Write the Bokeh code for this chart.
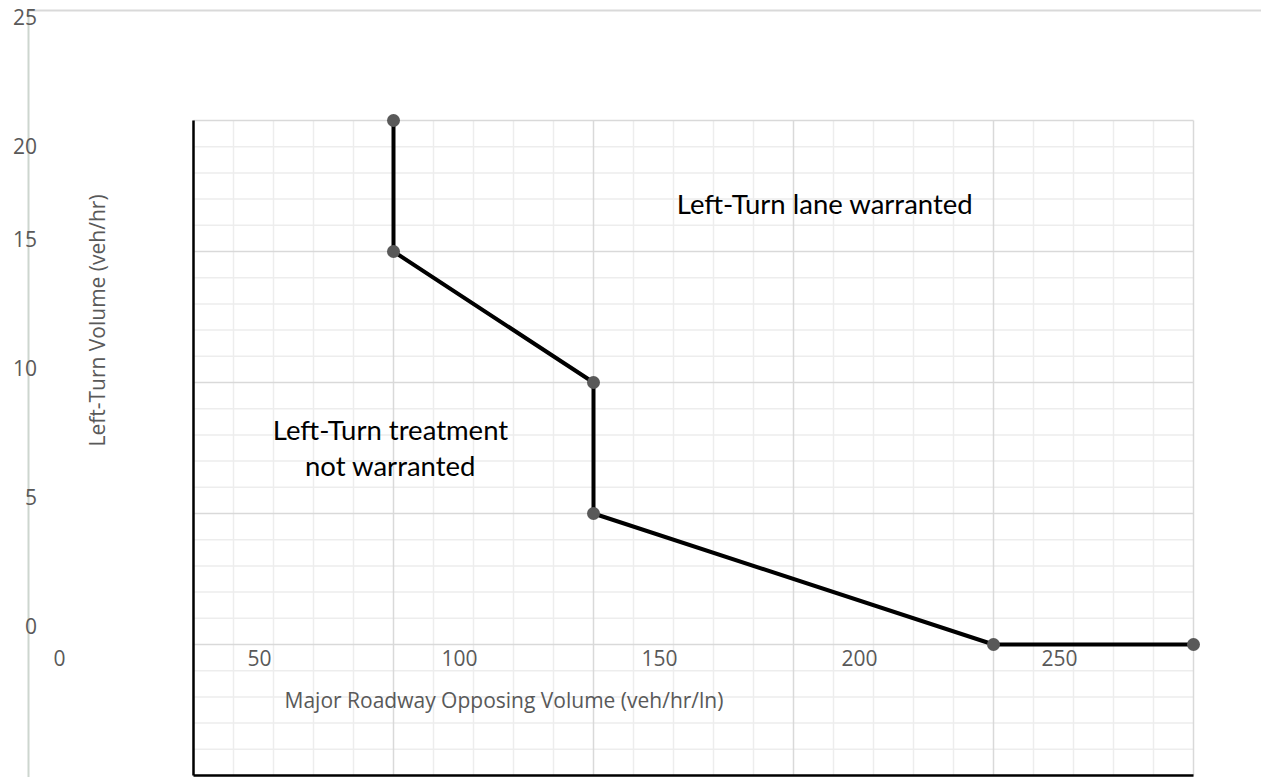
import numpy as np
from bokeh.plotting import figure
from bokeh.models import Range1d
from bokeh.core.properties import value
from bokeh.embed import file_html
from bokeh.resources import INLINE

# ---------------- data ----------------
opposing_volume = [50, 50, 100, 100, 200, 250]
left_turn_volume = [25, 20, 15, 10, 5, 5]

x_tick_values = [0, 50, 100, 150, 200, 250]
x_tick_labels = ["0", "50", "100", "150", "200", "250"]
y_tick_values = [0, 5, 10, 15, 20, 25]
y_tick_labels = ["0", "5", "10", "15", "20", "25"]

x_title = "Major Roadway Opposing Volume (veh/hr/ln)"
y_title = "Left-Turn Volume (veh/hr)"
note_warranted = "Left-Turn lane warranted"
note_not_warranted = ["Left-Turn treatment", "not warranted"]

X_MAX, Y_MAX = 250, 25
X_MINOR, X_MAJOR = 10, 50
Y_MINOR, Y_MAJOR = 1, 5

# ---------------- layout (picture pixels -> data) ----------------
W, H = 1261, 777
ORIGIN = 0
PX_X0, PX_PER_X = 193, 4.0
PX_Y0 = 775
PX_PER_Y = (775 - 120) / Y_MAX


def dx(px):
    return (px - PX_X0) / PX_PER_X


def dy(py):
    return (PX_Y0 - py) / PX_PER_Y


p = figure(width=W, height=H, output_backend="svg", toolbar_location=None,
           x_range=Range1d(dx(ORIGIN), dx(ORIGIN + W)),
           y_range=Range1d(dy(ORIGIN + H), dy(ORIGIN)),
           x_axis_location=None, y_axis_location=None, min_border=0)
p.min_border_left = p.min_border_right = p.min_border_top = p.min_border_bottom = 0
p.outline_line_color = None
p.xgrid.visible = False
p.ygrid.visible = False
p.background_fill_color = "white"
p.border_fill_color = "white"

# outer light frame lines
p.segment(x0=[dx(28)], y0=[dy(10)], x1=[dx(ORIGIN + W)], y1=[dy(10)],
          line_color="#d9d9d9", line_width=2)
p.segment(x0=[dx(28)], y0=[dy(10)], x1=[dx(28)], y1=[dy(ORIGIN + H)],
          line_color="#cdd6cf", line_width=2)

# grid
xs_minor = [v for v in range(0, X_MAX + 1, X_MINOR) if v % X_MAJOR]
ys_minor = [v for v in range(0, Y_MAX + 1, Y_MINOR) if v % Y_MAJOR]
xs_major = list(range(0, X_MAX + 1, X_MAJOR))
ys_major = list(range(0, Y_MAX + 1, Y_MAJOR))
p.segment(x0=xs_minor, y0=0, x1=xs_minor, y1=Y_MAX, line_color="#ededed", line_width=1.5)
p.segment(x0=0, y0=ys_minor, x1=X_MAX, y1=ys_minor, line_color="#ededed", line_width=1.5)
p.segment(x0=xs_major, y0=0, x1=xs_major, y1=Y_MAX, line_color="#d9d9d9", line_width=1.5)
p.segment(x0=0, y0=ys_major, x1=X_MAX, y1=ys_major, line_color="#d9d9d9", line_width=1.5)

# black inner axes
p.segment(x0=[0, 0], y0=[0, 0], x1=[0, X_MAX], y1=[Y_MAX, 0], line_color="black", line_width=2.5)

# series
p.line(opposing_volume, left_turn_volume, line_color="black", line_width=4)
p.scatter(opposing_volume, left_turn_volume, size=13, fill_color="#595959", line_color=None)

# tick labels
TICK_FONT = value("Open Sans")
x_label_dx = -33.5
p.text(x=[v + x_label_dx for v in x_tick_values], y=[dy(657)] * len(x_tick_values),
       text=x_tick_labels, text_font=TICK_FONT, text_font_size="21px",
       text_color="#595959", text_align="center", text_baseline="middle")
y_label_page = [625, 496, 367, 238, 145, 16]
p.text(x=[dx(36.5)] * len(y_tick_values), y=[dy(v) for v in y_label_page],
       text=y_tick_labels, text_font=TICK_FONT, text_font_size="21px",
       text_color="#595959", text_align="right", text_baseline="middle")

# axis titles
p.text(x=[dx(503.5)], y=[dy(699)], text=[x_title], text_font=TICK_FONT,
       text_font_size="21px", text_color="#595959", text_align="center", text_baseline="middle")
p.text(x=[dx(96)], y=[dy(320)], text=[y_title], text_font=TICK_FONT, angle=np.pi / 2,
       text_font_size="21px", text_color="#595959", text_align="center", text_baseline="middle")

# region notes
NOTE_FONT = value("Lato")
p.text(x=[dx(824.5)], y=[dy(203)], text=[note_warranted], text_font=NOTE_FONT,
       text_font_size="27.5px", text_color="black", text_align="center", text_baseline="middle")
p.text(x=[dx(390), dx(390)], y=[dy(429), dy(465)], text=note_not_warranted, text_font=NOTE_FONT,
       text_font_size="27.5px", text_color="black", text_align="center", text_baseline="middle")

open("out.html", "w").write(file_html(p, INLINE))
